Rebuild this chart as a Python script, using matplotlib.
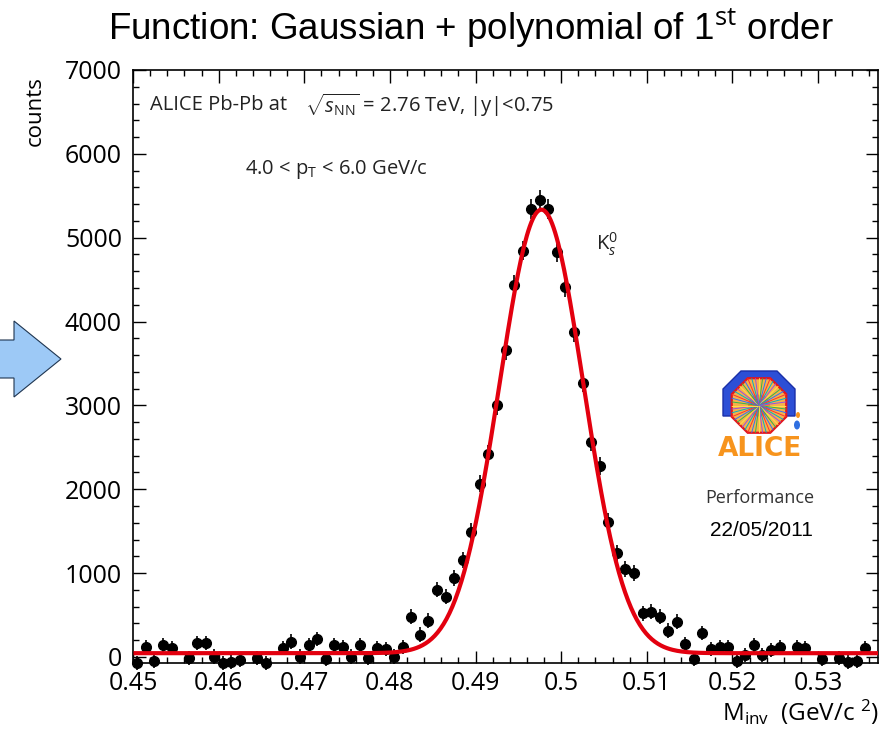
import numpy as np
import matplotlib
matplotlib.use('Agg')
import matplotlib.pyplot as plt
from matplotlib.ticker import MultipleLocator, FuncFormatter
from matplotlib.patches import Polygon, RegularPolygon, Ellipse

plt.rcParams['font.family'] = ['Open Sans', 'DejaVu Sans']
plt.rcParams['mathtext.fontset'] = 'custom'
plt.rcParams['mathtext.rm'] = 'Open Sans'
plt.rcParams['mathtext.it'] = 'Open Sans:italic'

# invariant mass histogram, bins of 1 MeV starting at 0.4505 GeV/c^2
first_bin = 0.4505
bin_width = 0.001
counts = [
    -68, 123, -44, 143, 104, np.nan, -16, 163, 163, 4,
    -68, -62, -36, np.nan, -16, -68, np.nan, 104, 183, 4,
    138, 211, -27, 143, 116, 4, 143, -16, 104, 92,
    4, 116, 481, 263, 430, 800, 720, 939, 1155, 1492,
    2068, 2425, 3000, 3655, 4440, 4845, 5341, 5445, 5345, 4830,
    4411, 3870, 3266, 2558, 2279, 1615, 1237, 1050, 1000, 521,
    541, 481, 314, 421, 155, -27, 283, 92, 123, 116,
    -44, 24, 143, 24, 84, 123, np.nan, 116, 104, np.nan,
    -27, np.nan, -16, -56, -44, 104]
count_err = [
    85, 85, 85, 85, 85, 85, 85, 85, 85, 85,
    85, 85, 85, 85, 85, 85, 85, 85, 85, 85,
    85, 85, 85, 85, 85, 85, 85, 85, 85, 85,
    85, 85, 90, 90, 90, 90, 90, 95, 100, 100,
    105, 105, 110, 110, 115, 115, 120, 120, 120, 115,
    115, 110, 110, 105, 105, 100, 95, 95, 95, 90,
    90, 90, 90, 90, 85, 85, 85, 85, 85, 85,
    85, 85, 85, 85, 85, 85, 85, 85, 85, 85,
    85, 85, 85, 85, 85, 85]

# fit: gaussian + pol1
fit_const = 5290
fit_mean = 0.4977
fit_sigma = 0.0049
fit_p0 = 45
fit_p1 = 0.0

mass = first_bin + bin_width*np.arange(len(counts))
xfit = np.linspace(0.4503, 0.537, 500)
yfit = fit_const*np.exp(-0.5*((xfit-fit_mean)/fit_sigma)**2) + fit_p0 + fit_p1*xfit

W, H = 895, 730
fig = plt.figure(figsize=(W/100, H/100), dpi=100)
ax = fig.add_axes([133/W, 1-663/H, (878-133)/W, (663-70)/H])

ax.errorbar(mass, counts, yerr=count_err, fmt='o', color='black', ms=7,
            elinewidth=1.2, capsize=0, zorder=3, clip_on=False)
ax.plot(xfit, yfit, color='#e3000f', lw=3, zorder=4)

ax.set_xlim(0.45, 0.537)
ax.set_ylim(-72, 7000)
ax.xaxis.set_major_locator(MultipleLocator(0.01))
ax.xaxis.set_minor_locator(MultipleLocator(0.002))
ax.yaxis.set_major_locator(MultipleLocator(1000))
ax.yaxis.set_minor_locator(MultipleLocator(200))
ax.xaxis.set_major_formatter(FuncFormatter(lambda v, p: '%g' % round(v, 3)))
ax.yaxis.set_major_formatter(FuncFormatter(lambda v, p: '%d' % v))
ax.tick_params(which='both', direction='in', top=True, right=True, width=1)
ax.tick_params(which='major', length=9, labelsize=18)
ax.tick_params(axis='y', which='major', pad=8)
ax.tick_params(axis='x', which='major', pad=6)
ax.tick_params(which='minor', length=4.5)
for s in ax.spines.values():
    s.set_linewidth(1.2)

ax.text(0.452, 6587, 'ALICE Pb-Pb at', fontsize=14.5, color='#222222', va='center')
ax.text(0.4701, 6587, r'$\sqrt{s_{\rm NN}}$ = 2.76 TeV, |y|<0.75', fontsize=14.5,
        color='#222222', va='center')
ax.text(0.4631, 5811, r'4.0 < p$_{\rm T}$ < 6.0 GeV/c', fontsize=14.5,
        color='#222222', va='center')
ax.text(0.5041, 4916, r'K$^{0}_{s}$', fontsize=14.5, color='#222222', va='center')

# overlay in pixel coordinates for title, arrow and logo
over = fig.add_axes([0, 0, 1, 1], zorder=5)
over.set_xlim(0, W)
over.set_ylim(H, 0)
over.axis('off')
over.patch.set_alpha(0)

over.text(471, 28, r'Function: Gaussian + polynomial of 1$^{\rm st}$ order',
          fontsize=26.5, family='Liberation Sans', ha='center', va='center')
over.text(35, 111, 'counts', fontsize=16, rotation=90, ha='center', va='center')
over.text(879, 712, r'M$_{\rm inv}$  (GeV/c $^{2}$)', fontsize=17.5, ha='right', va='center')

arrow_pts = [(-5, 340), (14, 340), (14, 321), (61, 359), (14, 397), (14, 378), (-5, 378)]
over.add_patch(Polygon(arrow_pts, closed=True, facecolor='#9dc9f6',
                       edgecolor='#1f3550', lw=0.8))

# ALICE logo
frame = [(723, 416), (723, 389), (741, 371), (777, 371), (795, 389), (795, 416)]
over.add_patch(Polygon(frame, closed=True, facecolor='#2c4fd6', edgecolor='#1a2fa8', lw=1))
octo = RegularPolygon((759, 405.5), 8, radius=29.5, orientation=np.pi/8,
                      facecolor='#f6b24a', edgecolor='#e3161b', lw=1.6)
over.add_patch(octo)
glow = Ellipse((759, 405.5), 22, 22, facecolor='#ff6a1a', edgecolor='none', alpha=0.7)
over.add_patch(glow)
glow.set_clip_path(octo)
ray_colors = ['#ffe14a', '#34b44a', '#2f6fff', '#ff3030', '#00b0c8', '#9a4de0']
for i, a in enumerate(np.linspace(0, 2*np.pi, 48, endpoint=False)):
    ln, = over.plot([759, 759 + 30*np.cos(a)], [405.5, 405.5 + 30*np.sin(a)],
                    color=ray_colors[i % len(ray_colors)], lw=0.7)
    ln.set_clip_path(octo)
over.add_patch(Ellipse((798, 415), 4, 6, facecolor='#f7941d', edgecolor='none'))
over.add_patch(Ellipse((797, 425), 6, 9, facecolor='#2f6fe0', edgecolor='none'))
over.text(760, 449, 'ALICE', fontsize=19, family='DejaVu Sans', weight='bold',
          color='#f7941d', ha='center', va='center')
over.text(760, 498, 'Performance', fontsize=13, color='#333333', ha='center', va='center')
over.text(761, 531, '22/05/2011', fontsize=15, family='Liberation Sans',
          color='black', ha='center', va='center')

fig.savefig('out.png', dpi=100)
